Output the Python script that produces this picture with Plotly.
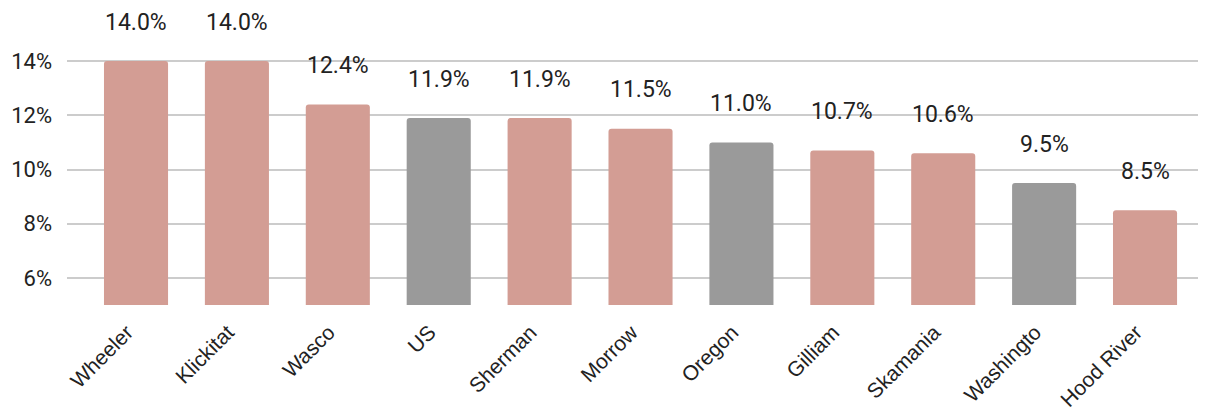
import plotly.graph_objects as go

counties = ["Wheeler", "Klickitat", "Wasco", "US", "Sherman", "Morrow",
            "Oregon", "Gilliam", "Skamania", "Washingto", "Hood River"]
rates = [14.0, 14.0, 12.4, 11.9, 11.9, 11.5, 11.0, 10.7, 10.6, 9.5, 8.5]
benchmarks = ["US", "Oregon", "Washingto"]
y_ticks = [6, 8, 10, 12, 14]

PINK = "#D39D94"
GREY = "#9A9A9A"

colors = [GREY if c in benchmarks else PINK for c in counties]

fig = go.Figure()

fig.add_trace(go.Bar(
    x=counties,
    y=rates,
    marker=dict(color=colors, cornerradius=3, line=dict(width=0)),
    hovertemplate="%{x}: %{y:.1f}%<extra></extra>",
))

# Etiquettes au-dessus des barres
for c, v in zip(counties, rates):
    fig.add_annotation(
        x=c, y=v,
        text=f"{v:.1f}%",
        showarrow=False,
        yanchor="middle",
        yshift=39,
        font=dict(family="Roboto", size=23, color="#222222"),
    )

# Habillage
fig.update_layout(
    width=1206,
    height=413,
    showlegend=False,
    plot_bgcolor="white",
    paper_bgcolor="white",
    bargap=0.365,
    margin=dict(t=34, b=108, l=67, r=8, autoexpand=False),
    xaxis=dict(
        range=[-0.684, 10.525],
        tickangle=-45,
        tickfont=dict(family="Liberation Sans, Arial", size=21, color="#222222"),
        showgrid=False,
        showline=False,
        ticks="",
        ticklabelstandoff=10,
        ticklabelshift=-9,
        automargin=False,
    ),
    yaxis=dict(
        range=[5, 15],
        tickvals=y_ticks,
        ticktext=[f"{t}%" for t in y_ticks],
        tickfont=dict(family="Roboto", size=22, color="#222222"),
        showgrid=True,
        gridcolor="#CCCCCC",
        gridwidth=1.5,
        zeroline=False,
        showline=False,
        ticklabelstandoff=14,
        automargin=False,
    ),
)

fig.write_html("out.html", config={"displayModeBar": False},
               post_script="document.body.style.margin='0';")
